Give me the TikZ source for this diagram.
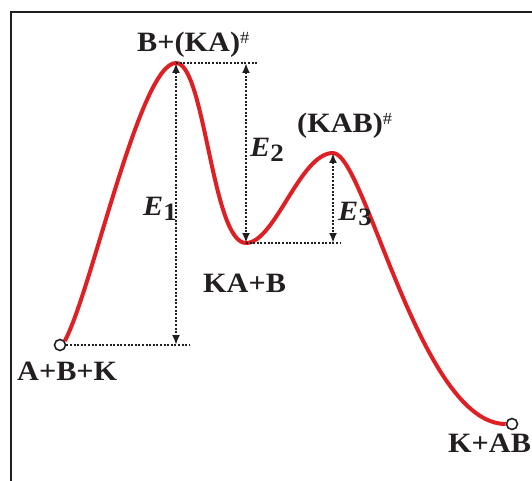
\documentclass[tikz,border=0pt]{standalone}
\usepackage{fontspec}
\setmainfont{Liberation Serif}[FakeStretch=1.08]
\usetikzlibrary{arrows.meta}
\definecolor{ink}{RGB}{35,31,32}
\definecolor{curvered}{RGB}{222,32,36}
\tikzset{
    lbl/.style = {font=\fontsize{28}{32}\selectfont\bfseries, text=ink, anchor=base west, inner sep=0pt},
    guide/.style = {ink, line width=2pt, dash pattern=on 2pt off 1.6pt},
    dim/.style = {guide, {Latex[length=10pt,width=8pt]}-{Latex[length=10pt,width=8pt]}},
    endpt/.style = {circle, draw=ink, fill=white, line width=1.6pt, minimum size=11pt, inner sep=0pt}
}
\newcommand{\sub}[1]{\raisebox{-5pt}{\fontsize{25}{25}\selectfont\upshape #1}}
\newcommand{\ts}{\raisebox{8pt}{\fontsize{17}{17}\selectfont\mdseries\#}}
\begin{document}
\begin{tikzpicture}[x=1pt, y=-1pt]
    \useasboundingbox (0,0) rectangle (532,481);
    % frame
    \draw[ink, line width=2pt] (11,481) -- (11,12) -- (532,12);
    % levels
    \node[endpt] (start) at (60,345) {};
    \node[endpt] (finish) at (512,424) {};
    \coordinate (peakA) at (176,63);
    \coordinate (valley) at (246,243);
    \coordinate (peakB) at (333,153);
    \draw[curvered, line width=4pt] (start.40) .. controls (92,290) and (140,63) .. (peakA)
        .. controls (205,63) and (212,243) .. (valley)
        .. controls (275,243) and (300,153) .. (peakB)
        .. controls (365,153) and (420,424) .. (finish.west);
    % dotted guides and energies
    \draw[guide] (peakA) -- (257,63);
    \draw[guide] (start.east) -- (190,345);
    \draw[guide] (valley) -- (340,243);
    \draw[dim] (peakA) -- (peakA |- start);
    \draw[dim] (valley |- peakA) -- (valley);
    \draw[dim] (peakB) -- (peakB |- valley);
    % labels
    \node[lbl] (tsA) at (137,52) {B+(KA)\ts};
    \node[lbl] (tsB) at (297,133) {(KAB)\ts};
    \node[lbl] (mid) at (203,292) {KA+B};
    \node[lbl] (reac) at (17,380) {A+B+K};
    \node[lbl] (prod) at (448,452) {K+AB};
    \node[lbl] (e1) at (143,215) {\itshape E\sub{1}};
    \node[lbl] (e2) at (250,157) {\itshape E\sub{2}};
    \node[lbl] (e3) at (338,220) {\itshape E\sub{3}};
\end{tikzpicture}
\end{document}
